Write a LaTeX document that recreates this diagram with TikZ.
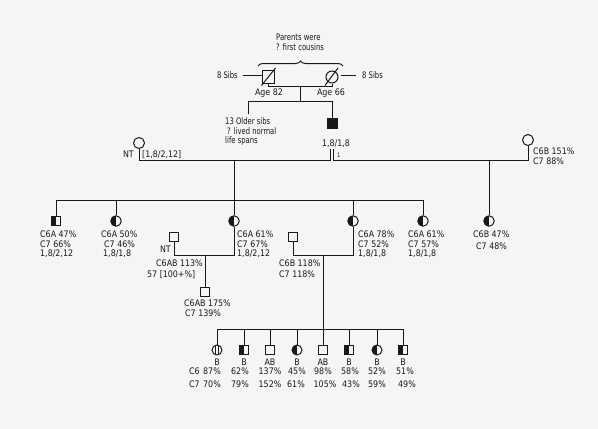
\documentclass[tikz,border=0pt]{standalone}
\usepackage{fontspec}
\setmainfont{DejaVu Sans}[FakeStretch=0.88]
\newfontfamily\narrowf{DejaVu Sans}[FakeStretch=0.76]
\usetikzlibrary{decorations.pathreplacing,calc}
\definecolor{paper}{RGB}{245,245,243}
\definecolor{ink}{RGB}{25,25,25}
\begin{document}
\begin{tikzpicture}[x=1pt,y=-1pt,
  every node/.style={font=\fontsize{9}{10}\selectfont, text=ink, inner sep=0pt},
  small/.style={font=\narrowf\fontsize{9}{10}\selectfont},
  ln/.style={draw=ink, line width=1pt},
  sq/.style={draw=ink, line width=1pt, rectangle, minimum size=9.5pt, inner sep=0pt},
  ci/.style={draw=ink, line width=1pt, circle, minimum size=10.5pt, inner sep=0pt},
  lhalf/.style={path picture={\fill[ink] (path picture bounding box.south west) rectangle (path picture bounding box.north);}},
  solidsym/.style={fill=ink},
  vstripe/.style={path picture={\draw[ink,line width=0.7pt] ([xshift=-1.6pt]path picture bounding box.north) -- ([xshift=-1.6pt]path picture bounding box.south) ([xshift=1.6pt]path picture bounding box.north) -- ([xshift=1.6pt]path picture bounding box.south);}},
  lt/.style={anchor=base west},
  ct/.style={anchor=base},
  rt/.style={anchor=base east},
]
\fill[paper] (0,0) rectangle (598,429);
\useasboundingbox (0,0) rectangle (598,429);

% ---------- top generation ----------
\node[lt, small] (t1) at (276,40) {Parents were};
\node[lt, small] (t2) at (276,50) {? first cousins};
\draw[ln, decorate, decoration={brace, amplitude=5pt}] (258,66) -- (343,66);

\node[sq, minimum size=12.5pt] (fa) at (268.5,77) {};
\draw[ln] ($(fa.center)+(-7,8.5)$) -- ($(fa.center)+(7,-9)$);
\node[ci, minimum size=12pt] (mo) at (332,77) {};
\draw[ln] ($(mo.center)+(-7,8.5)$) -- ($(mo.center)+(6,-9)$);

\node[anchor=east, small] (sL) at (238,75) {8 Sibs};
\draw[ln] ([xshift=5pt]sL.east) -- (fa.west |- sL.east);
\node[anchor=west, small] (sR) at (362,75) {8 Sibs};
\draw[ln] ([xshift=2pt]mo.east |- sR.west) -- ([xshift=-6pt]sR.west);

\draw[ln] (fa.south) -- (fa.south |- 0,86) -- (mo.south |- 0,86) -- (mo.south);
\node[ct] (a82) at (269,95) {Age 82};
\node[ct] (a66) at (331,95) {Age 66};

\coordinate (m1) at (300,86);
\coordinate (o13) at (248,114);
\node[sq, solidsym, minimum size=10pt] (so) at (332,123) {};
\draw[ln] (m1) -- (300,101);
\draw[ln] (o13) -- (248,101) -| (so.north);
\node[lt, small] (os1) at (225,124) {13 Older sibs};
\node[lt, small] (os2) at (227,134) {? lived normal};
\node[lt, small] (os3) at (225,143) {life spans};

\node[ct] (sol) at (336,146) {1,8/1,8};
\node[lt, font=\fontsize{6}{7}\selectfont] (one) at (337,157) {1};
\coordinate (dl) at (330.5,149);
\coordinate (dr) at (333.5,149);

% ---------- wives of affected son ----------
\node[ci, minimum size=11pt] (lf) at (139,143) {};
\node[rt] (lfnt) at (134,157) {NT};
\node[lt] (lfg) at (142,157) {[1,8/2,12]};
\draw[ln] (dl) -- (330.5,160) -- (lf.south |- 0,160) -- (lf.south);

\node[ci, minimum size=11pt] (rf) at (528,140) {};
\node[lt] (rf1) at (533,154) {C6B 151\%};
\node[lt] (rf2) at (533,164) {C7 88\%};
\draw[ln] (dr) -- (333.5,160) -- (rf.south |- 0,160) -- (rf.south);

% ---------- children ----------
\node[sq, lhalf] (k1) at (56,221) {};
\node[ci, lhalf] (k2) at (116,221) {};
\node[ci, lhalf] (k3) at (234,221) {};
\node[ci, lhalf] (k4) at (353,221) {};
\node[ci, lhalf] (k5) at (423,221) {};
\node[ci, lhalf] (k6) at (489,221) {};

\draw[ln] (234,160) -- (k3.north);
\draw[ln] (k1.north |- 0,200) -- (k5.north |- 0,200);
\foreach \k in {k1,k2,k4,k5} \draw[ln] (\k.north |- 0,200) -- (\k.north);
\draw[ln] (489,160) -- (k6.north);

\node[lt] (k1a) at (40,237.5) {C6A 47\%};
\node[lt] (k1b) at (40,247.5) {C7 66\%};
\node[lt] (k1c) at (40,256) {1,8/2,12};
\node[lt] (k2a) at (101,237.5) {C6A 50\%};
\node[lt] (k2b) at (104,247.5) {C7 46\%};
\node[lt] (k2c) at (103,256) {1,8/1,8};
\node[lt] (k3a) at (237,237.5) {C6A 61\%};
\node[lt] (k3b) at (237,247.5) {C7 67\%};
\node[lt] (k3c) at (237,256) {1,8/2,12};
\node[lt] (k4a) at (358,237.5) {C6A 78\%};
\node[lt] (k4b) at (358,247.5) {C7 52\%};
\node[lt] (k4c) at (358,256) {1,8/1,8};
\node[lt] (k5a) at (408,237.5) {C6A 61\%};
\node[lt] (k5b) at (408,247.5) {C7 57\%};
\node[lt] (k5c) at (408,256) {1,8/1,8};
\node[lt] (k6a) at (473,237.5) {C6B 47\%};
\node[lt] (k6b) at (476,249) {C7 48\%};

% ---------- spouses & grandchildren ----------
\node[sq, minimum size=9pt] (sp1) at (174,237) {};
\node[rt] (sp1nt) at (171,252) {NT};
\draw[ln] (k3.south) |- (sp1.south |- 0,255) -- (sp1.south);
\node[lt] (sp1a) at (156,266) {C6AB 113\%};
\node[lt] (sp1b) at (147,277) {57 [100+\%]};
\node[sq, minimum size=9pt] (gc1) at (205,292) {};
\draw[ln] (205,255) -- (gc1.north);
\node[lt] (gc1a) at (184,306) {C6AB 175\%};
\node[lt] (gc1b) at (185,316) {C7 139\%};

\node[sq, minimum size=9pt] (sp2) at (293,237) {};
\draw[ln] (k4.south) |- (sp2.south |- 0,255) -- (sp2.south);
\node[lt] (sp2a) at (279,266) {C6B 118\%};
\node[lt] (sp2b) at (279,277) {C7 118\%};

% ---------- bottom sibship ----------
\node[ci, vstripe, minimum size=10pt] (b1) at (217,350) {};
\node[sq, lhalf] (b2) at (244,350) {};
\node[sq] (b3) at (270,350) {};
\node[ci, lhalf, minimum size=10pt] (b4) at (297,350) {};
\node[sq] (b5) at (323,350) {};
\node[sq, lhalf] (b6) at (349,350) {};
\node[ci, lhalf, minimum size=10pt] (b7) at (377,350) {};
\node[sq, lhalf] (b8) at (403,350) {};

\draw[ln] (323,255) -- (b5.north);
\draw[ln] (b1.north |- 0,329) -- (b8.north |- 0,329);
\foreach \b in {b1,b2,b3,b4,b6,b7,b8} \draw[ln] (\b.north |- 0,329) -- (\b.north);

\foreach \b/\t in {b1/B,b2/B,b3/AB,b4/B,b5/AB,b6/B,b7/B,b8/B}
  \node[ct] (\b t) at (\b |- 0,365) {\t};

\node[lt] (c6) at (189,374.5) {C6};
\node[lt] (c7) at (189,387) {C7};
\foreach \n/\x/\v in {1/212/87,2/240/62,3/270/137,4/297/45,5/323/98,6/350/58,7/377/52,8/405/51}
  \node[ct] (v6\n) at (\x,374.5) {\v\%};
\foreach \n/\x/\v in {1/212/70,2/240/79,3/270/152,4/296/61,5/325/105,6/351/43,7/377/59,8/407/49}
  \node[ct] (v7\n) at (\x,387) {\v\%};
\end{tikzpicture}
\end{document}
